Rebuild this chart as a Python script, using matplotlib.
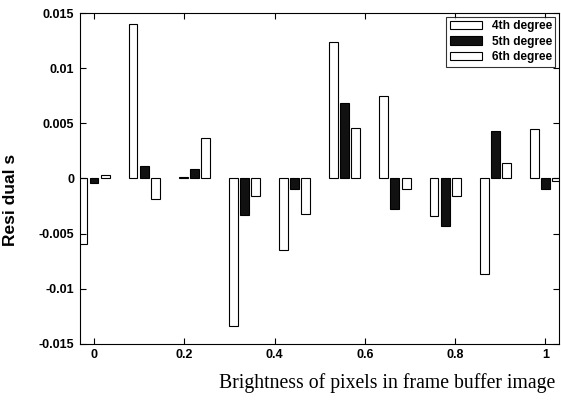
import numpy as np
import matplotlib.pyplot as plt

# pixel brightness samples and the fit residuals for each polynomial degree
brightness = np.linspace(0, 1, 10)
res_4th = [-0.0059, 0.0140, 0.0001, -0.0134, -0.0065, 0.0124, 0.0075, -0.0034, -0.0087, 0.0045]
res_5th = [-0.0004, 0.0011, 0.0009, -0.0033, -0.0010, 0.0068, -0.0028, -0.0043, 0.0043, -0.0010]
res_6th = [0.0003, -0.0019, 0.0037, -0.0016, -0.0032, 0.0046, -0.0010, -0.0016, 0.0014, -0.0002]
labels = ["4th degree", "5th degree", "6th degree"]

fig = plt.figure(figsize=(5.61, 4.07), dpi=100)
ax = fig.add_axes([0.1426, 0.155, 0.8538, 0.813])

step = brightness[1] - brightness[0]
slot = step * 0.667 / 3
width = slot * 0.8
offsets = [-slot, 0, slot]
colors = ["white", "#111111", "white"]

for vals, off, col, lab in zip([res_4th, res_5th, res_6th], offsets, colors, labels):
    ax.bar(brightness + off, vals, width=width, color=col,
           edgecolor="black", linewidth=0.8, label=lab)

ax.set_xlim(-0.031, 1.03)
ax.set_ylim(-0.015, 0.015)
ax.set_xticks([0, 0.2, 0.4, 0.6, 0.8, 1])
ax.set_xticklabels(["0", "0.2", "0.4", "0.6", "0.8", "1"])
ax.set_yticks([-0.015, -0.01, -0.005, 0, 0.005, 0.01, 0.015])
ax.set_yticklabels(["-0.015", "-0.01", "-0.005", "0", "0.005", "0.01", "0.015"])
ax.tick_params(direction="in", length=4, width=0.8, top=True, right=True,
               labelsize=9, pad=4)
for t in ax.get_xticklabels() + ax.get_yticklabels():
    t.set_fontweight("bold")
    t.set_family("Liberation Sans")
for s in ax.spines.values():
    s.set_linewidth(0.8)

ax.set_ylabel("Resi dual s", fontsize=12.5, family="Liberation Sans",
              fontweight="bold", labelpad=5)
ax.yaxis.set_label_coords(-0.13, 0.435)

leg = ax.legend(loc="upper right", frameon=True, fancybox=False,
                edgecolor="black", handlelength=2.7, handleheight=0.7,
                borderpad=0.3, labelspacing=0.3, handletextpad=0.8,
                borderaxespad=0.3, prop={"family": "Liberation Sans", "weight": "bold", "size": 8.6})
leg.get_frame().set_linewidth(0.8)

fig.text(0.99, 0.06, "Brightness of pixels in frame buffer image",
         ha="right", va="center", fontsize=14.2, family="Liberation Serif")

fig.savefig("out.png", dpi=100)
